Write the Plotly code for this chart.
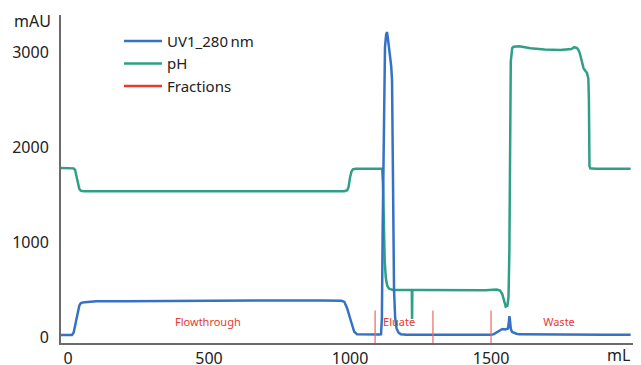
import plotly.graph_objects as go

# ---- data ----
uv_ml = [-25, 0, 10, 14, 20, 25, 30, 35, 40, 45, 50, 60, 80, 86, 100, 200, 264, 270, 400, 600, 800, 900, 960,
         970, 980, 990, 1000, 1007, 1015, 1025, 1050, 1080, 1105, 1110, 1113, 1116, 1120, 1124, 1128, 1131,
         1134, 1138, 1142, 1146, 1149, 1151, 1153, 1156, 1160, 1165, 1172, 1180, 1200, 1300, 1400, 1500,
         1510, 1520, 1530, 1540, 1550, 1556, 1560, 1563, 1565, 1567, 1570, 1574, 1580, 1590, 1600, 1700,
         1800, 1900, 1995]
uv_mau = [20, 20, 20, 22, 45, 110, 190, 270, 330, 355, 362, 365, 367, 375, 376, 377, 378, 385, 385, 385, 385, 385, 385,
          382, 370, 300, 200, 120, 55, 28, 25, 24, 26, 30, 200, 1200, 2500, 3050, 3180, 3210,
          3150, 3050, 2950, 2850, 2700, 2200, 1200, 500, 200, 90, 45, 30, 25, 24, 24, 25,
          30, 50, 72, 85, 80, 82, 90, 150, 220, 180, 90, 55, 45, 35, 28, 25,
          25, 24, 24]

ph_ml = [-25, 0, 20, 25, 30, 35, 40, 45, 55, 200, 500, 800, 980, 990, 995, 1000, 1005, 1010, 1020, 1060,
         1100, 1114, 1117, 1120, 1123, 1127, 1132, 1138, 1145, 1152, 1170, 1200, 1219, 1220, 1221, 1250,
         1300, 1400, 1480, 1520, 1532, 1540, 1546, 1552, 1558, 1562, 1565, 1567, 1570, 1575, 1580,
         1600, 1640, 1690, 1745, 1785, 1795, 1805, 1812, 1817, 1822, 1828, 1835, 1840, 1845, 1847,
         1849, 1852, 1870, 1950, 1995]
ph_val = [1780, 1780, 1775, 1760, 1700, 1620, 1560, 1540, 1535, 1535, 1535, 1535, 1535, 1545, 1580, 1680, 1740,
          1765, 1770, 1770, 1772, 1772, 1600, 1100, 800, 620, 540, 510, 500, 495, 495, 495, 495, 190, 495, 495,
          495, 490, 492, 500, 490, 450, 380, 320, 330, 420, 900, 2000, 2900, 3040, 3055,
          3060, 3040, 3025, 3020, 3030, 3050, 3040, 3010, 2960, 2900, 2830, 2800, 2780, 2720, 2500,
          1800, 1775, 1772, 1772, 1772]

fraction_ml = [1089, 1294, 1500]
fraction_names = ["Flowthrough", "Eluate", "Waste"]
fraction_label_ml = [496, 1174, 1741]
fraction_label_mau = 145
fraction_top = 280
fraction_bottom = -63

x_ticks = [0, 500, 1000, 1500]
y_ticks = [0, 1000, 2000, 3000]

BLUE = "#3571c5"
GREEN = "#2f9f88"
RED = "#e8392f"
FONT = "Noto Sans"

fig = go.Figure()

fig.add_trace(go.Scatter(x=ph_ml, y=ph_val, mode="lines", name="pH",
                         line=dict(color=GREEN, width=2.5), legendrank=2))
fig.add_trace(go.Scatter(x=uv_ml, y=uv_mau, mode="lines", name="UV1_280\u2009nm",
                         line=dict(color=BLUE, width=2.5), legendrank=1))

fx, fy = [], []
for m in fraction_ml:
    fx += [m, m, None]
    fy += [fraction_bottom, fraction_top, None]
fig.add_trace(go.Scatter(x=fx, y=fy, mode="lines", name="Fractions", showlegend=False,
                         legendgroup="frac",
                         line=dict(color="#ec6a63", width=1.2)))
# legend swatch for the fraction marks
fig.add_trace(go.Scatter(x=[None], y=[None], mode="lines", name="Fractions",
                         legendgroup="frac", line=dict(color=RED, width=2.5), legendrank=3))

fig.add_trace(go.Scatter(x=fraction_label_ml, y=[fraction_label_mau] * len(fraction_label_ml),
                         mode="text", text=fraction_names, showlegend=False,
                         textfont=dict(color=RED, size=11, family=FONT)))

# page body adds an 8px offset; figure sized so the plot area lands where the reference has it
fig.update_layout(
    width=633, height=357,
    margin=dict(l=53, r=5, t=7, b=22),
    paper_bgcolor="white", plot_bgcolor="white",
    font=dict(family=FONT, size=16, color="#222222"),
    showlegend=True,
    legend=dict(x=0.1009, y=0.970, xanchor="left", yanchor="top",
                bgcolor="rgba(0,0,0,0)", font=dict(size=15, family=FONT),
                itemwidth=38, tracegroupgap=0),
    xaxis=dict(range=[-24.8, 2014], tickvals=x_ticks, showgrid=False, zeroline=False,
               showline=True, linecolor="#6b6b6b", linewidth=2, automargin=False,
               ticks="outside", ticklen=0, tickcolor="rgba(0,0,0,0)"),
    yaxis=dict(range=[-63, 3389], tickvals=y_ticks, showgrid=False, zeroline=False,
               showline=True, linecolor="#6b6b6b", linewidth=2, automargin=False,
               ticks="outside", ticklen=7, tickcolor="rgba(0,0,0,0)"),
    annotations=[
        dict(text="mAU", xref="paper", yref="paper", x=-0.0487, y=0.982,
             showarrow=False, xanchor="center", yanchor="middle", font=dict(size=16)),
        dict(text="mL", xref="paper", yref="paper", x=0.97, y=-0.036,
             showarrow=False, xanchor="center", yanchor="middle", font=dict(size=16)),
    ],
)

fig.write_html("out.html")
